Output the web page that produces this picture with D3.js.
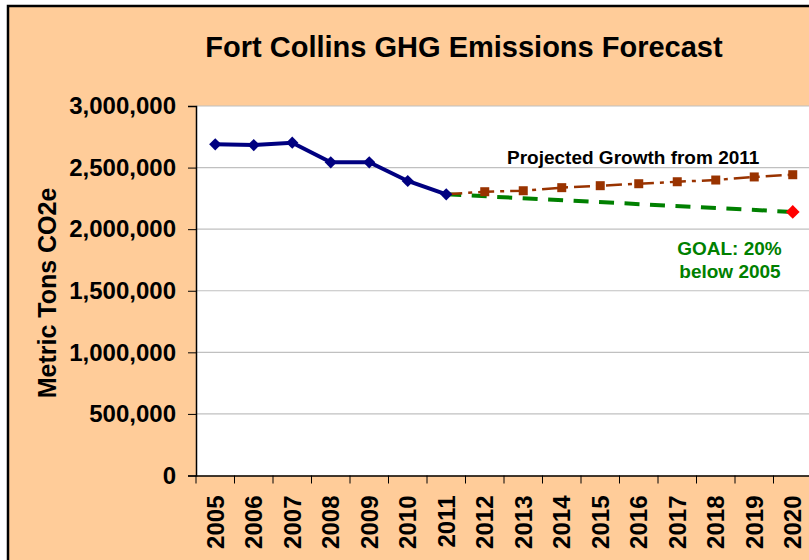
<!DOCTYPE html>
<meta charset="utf-8">
<head>
<style>
body { margin: 0; background-color: white; }
text { font-family: "Liberation Sans", Arial, sans-serif; font-weight: bold; }
</style>
</head>
<script src="https://d3js.org/d3.v7.min.js"></script>
<div id="my_dataviz"></div>
<script>

// data
var years = ["2005","2006","2007","2008","2009","2010","2011","2012","2013","2014","2015","2016","2017","2018","2019","2020"];
var historicYears = ["2005","2006","2007","2008","2009","2010","2011"];
var historic = [2689000, 2683000, 2702000, 2543000, 2543000, 2391000, 2283000];
var projectedYears = ["2011","2012","2013","2014","2015","2016","2017","2018","2019","2020"];
var projected = [2283000, 2304000, 2312000, 2337000, 2353000, 2369000, 2385000, 2399000, 2424000, 2442000];
var goalYears = ["2011","2020"];
var goal = [2283000, 2140000];
var yTicks = [0, 500000, 1000000, 1500000, 2000000, 2500000, 3000000];

var W = 809, H = 560;
// plot area edges (don't use "top", it's window.top)
var plotL = 196, plotR = 812, plotT = 106, plotB = 475.5;

var svg = d3.select("#my_dataviz")
  .append("svg")
    .attr("width", W)
    .attr("height", H);

// chart background + frame
svg.append("rect")
  .attr("x", 8).attr("y", 6)
  .attr("width", W + 20).attr("height", H + 20)
  .attr("fill", "#FFCC99")
  .attr("stroke", "black")
  .attr("stroke-width", 2.5);

// plot area
svg.append("rect")
  .attr("x", plotL).attr("y", plotT)
  .attr("width", plotR - plotL).attr("height", plotB - plotT)
  .attr("fill", "white");

var x = d3.scaleBand()
  .domain(years)
  .range([plotL, plotR]);

var y = d3.scaleLinear()
  .domain([0, 3000000])
  .range([plotB, plotT]);

function cx(d) { return x(d) + x.bandwidth() / 2; }

// gridlines
svg.append("g")
  .selectAll("line")
  .data(yTicks.slice(1))
  .enter()
  .append("line")
    .attr("x1", plotL).attr("x2", plotR)
    .attr("y1", function(d) { return y(d); })
    .attr("y2", function(d) { return y(d); })
    .attr("stroke", "#C0C0C0")
    .attr("stroke-width", 1.2);

// Y axis
var yAxis = svg.append("g")
  .attr("transform", "translate(" + plotL + ",0)")
  .call(d3.axisLeft(y).tickValues(yTicks).tickSize(8).tickPadding(12).tickFormat(d3.format(",")));
yAxis.select(".domain").attr("stroke", "black").attr("stroke-width", 1.5);
yAxis.selectAll("text")
  .attr("font-size", "24px")
  .attr("font-family", "Liberation Sans, Arial, sans-serif")
  .attr("font-weight", "bold")
  .attr("fill", "black");

// X axis
var xAxis = svg.append("g")
  .attr("transform", "translate(0," + plotB + ")")
  .call(d3.axisBottom(x).tickSize(0).tickPadding(0));
xAxis.select(".domain").attr("stroke", "black").attr("stroke-width", 1.5);
xAxis.selectAll("text")
  .attr("font-size", "24px")
  .attr("font-family", "Liberation Sans, Arial, sans-serif")
  .attr("font-weight", "bold")
  .attr("fill", "black")
  .attr("transform", "rotate(-90)")
  .attr("x", -20)
  .attr("y", 0)
  .attr("dy", "0.35em")
  .style("text-anchor", "end");

// category boundary ticks
svg.append("g")
  .selectAll("line")
  .data(years)
  .enter()
  .append("line")
    .attr("x1", function(d) { return x(d); })
    .attr("x2", function(d) { return x(d); })
    .attr("y1", plotB).attr("y2", plotB + 8)
    .attr("stroke", "black")
    .attr("stroke-width", 1);

// Title
svg.append("text")
  .attr("x", 464)
  .attr("y", 57)
  .attr("text-anchor", "middle")
  .attr("font-size", "29px")
  .text("Fort Collins GHG Emissions Forecast");

// Y axis label
svg.append("text")
  .attr("transform", "translate(56," + 293 + ") rotate(-90)")
  .attr("text-anchor", "middle")
  .attr("font-size", "25px")
  .text("Metric Tons CO2e");

var line = d3.line()
  .x(function(d) { return cx(d[0]); })
  .y(function(d) { return y(d[1]); });

// goal line
svg.append("path")
  .datum(d3.zip(goalYears, goal))
  .attr("d", line)
  .attr("fill", "none")
  .attr("stroke", "#008000")
  .attr("stroke-width", 4)
  .attr("stroke-dasharray", "15,10.5");

// projected growth
svg.append("path")
  .datum(d3.zip(projectedYears, projected))
  .attr("d", line)
  .attr("fill", "none")
  .attr("stroke", "#993300")
  .attr("stroke-width", 2.5)
  .attr("stroke-dasharray", "16,6,4,6");

svg.append("g")
  .selectAll("rect")
  .data(d3.zip(projectedYears, projected).slice(1))
  .enter()
  .append("rect")
    .attr("x", function(d) { return cx(d[0]) - 4.5; })
    .attr("y", function(d) { return y(d[1]) - 4.5; })
    .attr("width", 9).attr("height", 9)
    .attr("fill", "#993300");

// historic emissions
svg.append("path")
  .datum(d3.zip(historicYears, historic))
  .attr("d", line)
  .attr("fill", "none")
  .attr("stroke", "#000080")
  .attr("stroke-width", 4);

var diamond = d3.symbol().type(d3.symbolDiamond2);

svg.append("g")
  .selectAll("path")
  .data(d3.zip(historicYears, historic))
  .enter()
  .append("path")
    .attr("d", diamond.size(95))
    .attr("transform", function(d) { return "translate(" + cx(d[0]) + "," + y(d[1]) + ")"; })
    .attr("fill", "#000080");

// goal marker
svg.append("path")
  .datum([goalYears[1], goal[1]])
  .attr("d", d3.symbol().type(d3.symbolDiamond2).size(120))
  .attr("transform", function(d) { return "translate(" + cx(d[0]) + "," + y(d[1]) + ")"; })
  .attr("fill", "#FF0000");

// annotations
svg.append("text")
  .attr("x", 507)
  .attr("y", 164)
  .attr("font-size", "19px")
  .attr("fill", "black")
  .text("Projected Growth from 2011");

svg.append("text")
  .attr("x", 729.5)
  .attr("y", 255)
  .attr("text-anchor", "middle")
  .attr("font-size", "19px")
  .attr("fill", "#008000")
  .text("GOAL: 20%");

svg.append("text")
  .attr("x", 730)
  .attr("y", 278)
  .attr("text-anchor", "middle")
  .attr("font-size", "19px")
  .attr("fill", "#008000")
  .text("below 2005");

</script>
